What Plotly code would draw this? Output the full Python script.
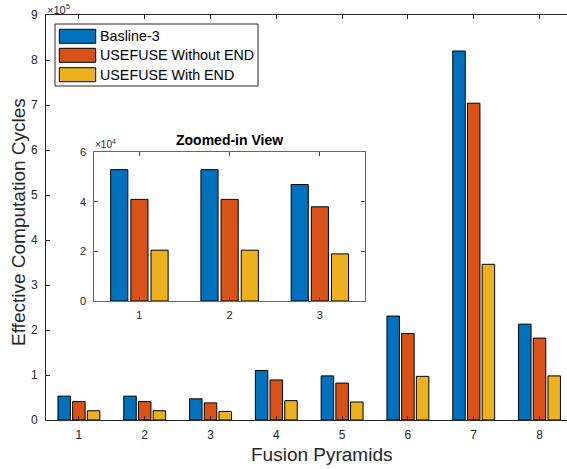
import plotly.graph_objects as go

# ---------------- data ----------------
pyramids = [1, 2, 3, 4, 5, 6, 7, 8]
baseline3 = [53000, 53000, 47000, 110000, 98000, 231000, 820000, 213000]
usefuse_without_end = [41000, 41000, 38000, 89000, 82000, 192000, 704000, 182000]
usefuse_with_end = [20500, 20500, 19000, 43000, 40000, 97000, 346000, 98000]
series_names = ["Basline-3", "USEFUSE Without END", "USEFUSE With END"]
colors = ["#0072BD", "#D95319", "#EDB120"]
inset_n = 3
y_main_ticks = [0, 1, 2, 3, 4, 5, 6, 7, 8, 9]
y_inset_ticks = [0, 2, 4, 6]

W, H = 567, 469
L, R, T, B = 46, 567, 15, 420  # plot area in pixels
FONT = "Liberation Sans, Arial, Helvetica, sans-serif"
AX = "#262626"


def pxx(x):
    return (x - L) / (R - L)


def pxy(y):
    return (B - y) / (B - T)


fig = go.Figure()
series = [baseline3, usefuse_without_end, usefuse_with_end]
for name, vals, c in zip(series_names, series, colors):
    fig.add_trace(go.Bar(x=pyramids, y=vals, name=name, marker=dict(color=c, line=dict(color="black", width=1)),
                         showlegend=False))
for name, vals, c in zip(series_names, series, colors):
    fig.add_trace(go.Bar(x=pyramids[:inset_n], y=vals[:inset_n], name=name, xaxis="x2", yaxis="y2",
                         marker=dict(color=c, line=dict(color="black", width=1)), showlegend=False))

unit = 65.8
fig.update_layout(
    width=W, height=H, autosize=False,
    margin=dict(l=L, r=W - R, t=T, b=H - B, pad=0),
    paper_bgcolor="white", plot_bgcolor="white",
    barmode="group", bargap=0.33, bargroupgap=0.15,
    font=dict(family=FONT, color=AX, size=12),
    xaxis=dict(range=[0.5, 0.5 + (R - L) / unit], tickvals=pyramids, ticktext=[str(p) for p in pyramids],
               showline=True, linecolor=AX, linewidth=1, mirror="ticks", ticks="inside", ticklen=4,
               tickcolor=AX, showgrid=False, zeroline=False, tickfont=dict(size=12, color=AX),
               ticklabelstandoff=4),
    yaxis=dict(range=[0, 9e5], tickvals=[v * 1e5 for v in y_main_ticks], ticktext=[str(v) for v in y_main_ticks],
               showline=True, linecolor=AX, linewidth=1, ticks="inside", ticklen=4, tickcolor=AX,
               showgrid=False, zeroline=False, tickfont=dict(size=12, color=AX), ticklabelstandoff=5),
    xaxis2=dict(domain=[pxx(94.3), pxx(365)], anchor="y2", range=[0.5, 3.5], tickvals=pyramids[:inset_n],
                ticktext=[str(p) for p in pyramids[:inset_n]], showline=True, linecolor="#666666", linewidth=1,
                mirror="ticks", ticks="inside", ticklen=4, tickcolor="#444444", showgrid=False, zeroline=False,
                tickfont=dict(size=11, color=AX), ticklabelstandoff=4),
    yaxis2=dict(domain=[pxy(301), pxy(152.3)], anchor="x2", range=[0, 6e4],
                tickvals=[v * 1e4 for v in y_inset_ticks], ticktext=[str(v) for v in y_inset_ticks],
                showline=True, linecolor="#666666", linewidth=1, mirror="ticks", ticks="inside", ticklen=4,
                tickcolor="#444444", showgrid=False, zeroline=False, tickfont=dict(size=11, color=AX),
                ticklabelstandoff=5),
)

ann = []
# axis titles
ann.append(dict(text="Fusion Pyramids", x=pxx(322), y=pxy(454), xref="paper", yref="paper",
                showarrow=False, font=dict(size=19, color=AX), xanchor="center", yanchor="middle"))
ann.append(dict(text="Effective Computation Cycles", x=pxx(19), y=pxy(222), xref="paper", yref="paper",
                showarrow=False, font=dict(size=19, color=AX), textangle=-90, xanchor="center", yanchor="middle"))
# exponents
ann.append(dict(text="×10<sup>5</sup>", x=pxx(45), y=pxy(0), xref="paper", yref="paper", showarrow=False,
                font=dict(size=11, color=AX), xanchor="left", yanchor="top"))
ann.append(dict(text="×10<sup>4</sup>", x=pxx(93), y=pxy(152), xref="paper", yref="paper", showarrow=False,
                font=dict(size=10, color=AX), xanchor="left", yanchor="bottom"))
# inset title
ann.append(dict(text="<b>Zoomed-in View</b>", x=pxx(229.5), y=pxy(140), xref="paper", yref="paper",
                showarrow=False, font=dict(size=14, color="black"), xanchor="center", yanchor="middle"))

shapes = []
# custom legend box
shapes.append(dict(type="rect", xref="paper", yref="paper", x0=pxx(55), x1=pxx(258), y0=pxy(86), y1=pxy(24),
                   line=dict(color=AX, width=1), fillcolor="white", layer="above"))
rows = [36.3, 55.3, 74.7]
for name, c, ry in zip(series_names, colors, rows):
    shapes.append(dict(type="rect", xref="paper", yref="paper", x0=pxx(59.3), x1=pxx(95.7), y0=pxy(ry + 7),
                       y1=pxy(ry - 7), line=dict(color="black", width=1), fillcolor=c, layer="above"))
    ann.append(dict(text=name, x=pxx(98), y=pxy(ry), xref="paper", yref="paper", showarrow=False,
                    font=dict(size=14.3, color="black"), xanchor="left", yanchor="middle"))

fig.update_layout(annotations=ann, shapes=shapes)
fig.write_html("out.html", config={"displayModeBar": False},
               post_script="document.body.style.margin='0';document.body.style.overflow='hidden';")
